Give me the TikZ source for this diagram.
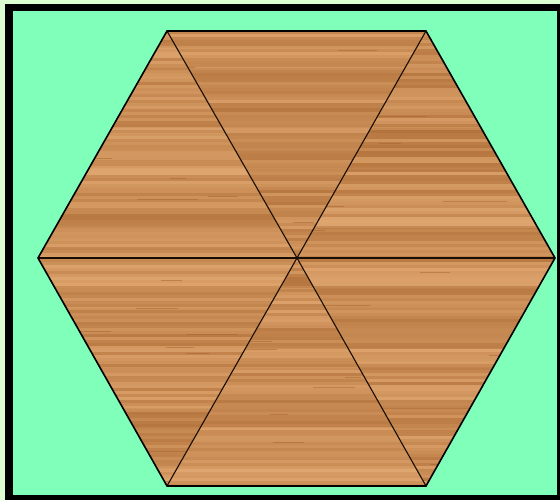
\documentclass[tikz,border=0pt]{standalone}
\usetikzlibrary{calc}
\definecolor{paleedge}{HTML}{DDFFD2}
\definecolor{mint}{HTML}{80FFBB}
\definecolor{woodbase}{HTML}{D09258}
\definecolor{woodlight}{HTML}{EBB47F}
\definecolor{wooddark}{HTML}{A2602B}
\tikzset{
  frameline/.style={fill=black},
  hexedge/.style={draw=black, line width=1.6pt, line join=miter},
  spoke/.style={draw=black!85!wooddark, line width=1.1pt}
}
\pgfmathsetseed{11}
\begin{document}
\begin{tikzpicture}[x=1pt, y=-1pt]
\useasboundingbox (0,0) rectangle (560,500);
% frame and background
\fill[paleedge] (0,0) rectangle (560,500);
\fill[frameline] (5,4) rectangle (560,500);
\fill[mint] (13,11) rectangle (557,495);
% hexagon corners
\coordinate (c) at (297,258);
\coordinate (v1) at (167,31);
\coordinate (v2) at (426,31);
\coordinate (v3) at (555,258);
\coordinate (v4) at (426,486);
\coordinate (v5) at (167,486);
\coordinate (v6) at (38,258);
% six wooden pieces
\foreach \a/\b in {v1/v2,v2/v3,v3/v4,v4/v5,v5/v6,v6/v1}{
  \begin{scope}
    \clip (c) -- (\a) -- (\b) -- cycle;
    \fill[woodbase] (0,0) rectangle (560,500);
    \foreach \y in {28,48,...,488}{
      \pgfmathsetmacro\mix{int(rnd*100)}
      \fill[woodlight!\mix!wooddark, opacity=0.35] (0,\y) rectangle (560,\y+20);
    }
    \foreach \y in {28,31,...,490}{
      \pgfmathsetmacro\mix{int(rnd*100)}
      \fill[woodlight!\mix!wooddark, opacity=0.4] (0,\y) rectangle (560,\y+3);
    }
    \foreach \i in {1,...,40}{
      \pgfmathsetmacro\gx{30+rnd*520}
      \pgfmathsetmacro\gy{30+rnd*460}
      \pgfmathsetmacro\gl{15+rnd*50}
      \draw[wooddark, opacity=0.45, line width=1pt] (\gx,\gy) -- (\gx+\gl,\gy);
    }
  \end{scope}
}
% spokes
\foreach \v in {v1,v2,v3,v4,v5,v6}
  \draw[spoke] (c) -- (\v);
\draw[hexedge] (v1) -- (v2) -- (v3) -- (v4) -- (v5) -- (v6) -- cycle;
\end{tikzpicture}
\end{document}
